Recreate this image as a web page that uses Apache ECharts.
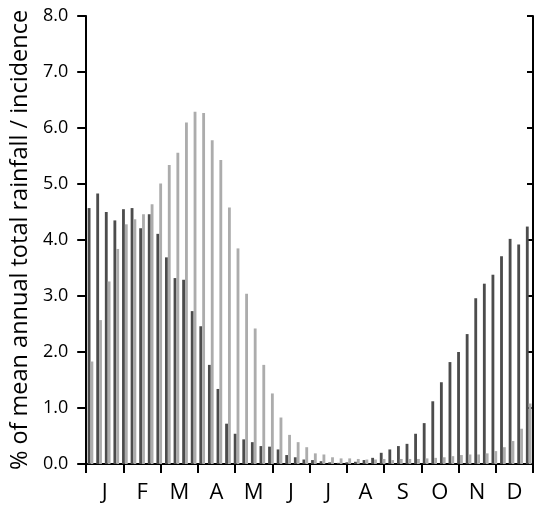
<!DOCTYPE html>
<html>
<head>
<meta charset="utf-8">
<script src="https://cdn.jsdelivr.net/npm/echarts@6/dist/echarts.min.js"></script>
<style>
  html, body { margin: 0; padding: 0; background: #ffffff; }
  #chart { width: 539px; height: 506px; }
</style>
</head>
<body>
<div id="chart"></div>
<script>
// Month initials shown along the bottom axis
var months = ['J', 'F', 'M', 'A', 'M', 'J', 'J', 'A', 'S', 'O', 'N', 'D'];

// 52 weekly categories
var weeks = [];
for (var i = 1; i <= 52; i++) weeks.push('W' + i);

// Weekly share of annual total (%) - dark series
var darkSeries = [
  4.57, 4.83, 4.50, 4.35, 4.55, 4.57, 4.21, 4.46, 4.11, 3.69,
  3.32, 3.29, 2.73, 2.46, 1.77, 1.34, 0.72, 0.54, 0.44, 0.39,
  0.32, 0.31, 0.26, 0.16, 0.12, 0.08, 0.07, 0.05, 0.03, 0.02,
  0.03, 0.04, 0.07, 0.11, 0.20, 0.26, 0.32, 0.36, 0.54, 0.73,
  1.12, 1.46, 1.82, 2.00, 2.32, 2.96, 3.22, 3.38, 3.71, 4.02,
  3.92, 4.24
];

// Weekly share of annual total (%) - light series
var lightSeries = [
  1.83, 2.57, 3.26, 3.84, 4.28, 4.37, 4.46, 4.64, 5.01, 5.34,
  5.56, 6.10, 6.29, 6.27, 5.78, 5.43, 4.58, 3.85, 3.04, 2.42,
  1.77, 1.26, 0.83, 0.52, 0.39, 0.30, 0.19, 0.17, 0.12, 0.10,
  0.10, 0.09, 0.08, 0.08, 0.09, 0.07, 0.09, 0.09, 0.09, 0.10,
  0.11, 0.12, 0.14, 0.16, 0.17, 0.17, 0.19, 0.23, 0.30, 0.41,
  0.63, 1.08
];

var yTicks = { min: 0, max: 8, step: 1 };

var FONT = '"Open Sans", "DejaVu Sans", sans-serif';
var axisLine = { show: true, lineStyle: { color: '#000', width: 2 } };

var chart = echarts.init(document.getElementById('chart'), null, { renderer: 'canvas' });

chart.setOption({
  backgroundColor: '#ffffff',
  animation: false,
  grid: { left: 85, right: 6, top: 16, bottom: 42, containLabel: false },
  xAxis: [
    {
      type: 'category',
      data: weeks,
      show: false,
      boundaryGap: true
    },
    {
      type: 'category',
      data: months,
      position: 'bottom',
      offset: 0,
      boundaryGap: true,
      axisLine: axisLine,
      axisTick: { show: true, interval: 0, length: 9, lineStyle: { color: '#000', width: 2 } },
      axisLabel: { interval: 0, margin: 18, color: '#000', fontSize: 22, fontFamily: FONT },
      splitLine: { show: false }
    }
  ],
  yAxis: [
    {
      type: 'value',
      position: 'left',
      min: yTicks.min,
      max: yTicks.max,
      interval: yTicks.step,
      name: '% of mean annual total rainfall / incidence',
      nameLocation: 'middle',
      nameGap: 48,
      nameTextStyle: { color: '#000', fontSize: 23.5, fontFamily: FONT },
      axisLine: axisLine,
      axisTick: { show: true, length: 9, lineStyle: { color: '#000', width: 2 } },
      axisLabel: {
        margin: 18,
        color: '#000',
        fontSize: 18,
        fontFamily: FONT,
        formatter: function (v) { return v.toFixed(1); }
      },
      splitLine: { show: false }
    },
    {
      type: 'value',
      position: 'right',
      min: yTicks.min,
      max: yTicks.max,
      interval: yTicks.step,
      axisLine: axisLine,
      axisTick: { show: true, inside: true, length: 6, lineStyle: { color: '#000', width: 2 } },
      axisLabel: { show: false },
      splitLine: { show: false }
    }
  ],
  series: [
    {
      type: 'bar',
      xAxisIndex: 0,
      yAxisIndex: 0,
      data: darkSeries,
      barWidth: '33%',
      barGap: '0%',
      itemStyle: { color: '#4c4c4c' }
    },
    {
      type: 'bar',
      xAxisIndex: 0,
      yAxisIndex: 0,
      data: lightSeries,
      barWidth: '33%',
      barGap: '0%',
      itemStyle: { color: '#acacac' }
    }
  ]
});
</script>
</body>
</html>
